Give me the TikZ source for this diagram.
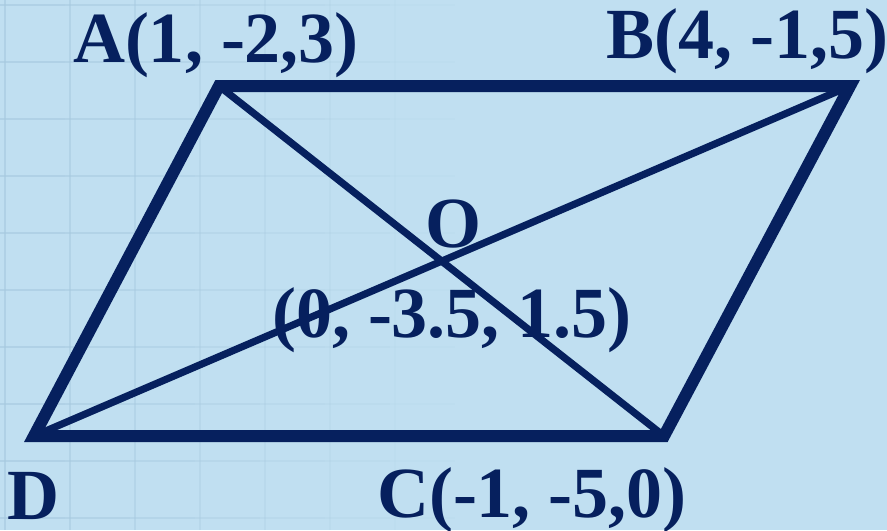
\documentclass[tikz,border=0pt]{standalone}
\usepackage{fontspec}
\setmainfont{Liberation Serif}
\usepackage{xcolor}
\definecolor{pgBack}{HTML}{C0DFF1}
\definecolor{pgGrid}{HTML}{A6C9DF}
\definecolor{pgNavy}{HTML}{06205E}
\usepackage{tikz}
\usetikzlibrary{positioning, calc}

\begin{document}
\begin{tikzpicture}[x=0.5pt, y=-0.5pt,
    side/.style={draw=pgNavy, line width=6pt, line join=miter},
    diag/.style={draw=pgNavy, line width=3.6pt},
    lbl/.style={text=pgNavy, font=\fontsize{36}{40}\selectfont\bfseries,
                inner sep=0pt, anchor=base}]
  % background and faint grid
  \fill[pgBack] (0,0) rectangle (887,530);
  \useasboundingbox (0,0) rectangle (887,530);
  \foreach \k in {0,...,6}{
    \pgfmathsetmacro{\op}{0.6*(1-\k/7)}
    \draw[pgGrid, line width=1.2pt, opacity=\op] (5+65*\k,0) -- (5+65*\k,530);
    \foreach \j in {0,...,9}{
      \draw[pgGrid, line width=1.2pt, opacity=\op] (65*\k,5+57*\j) -- (65*\k+65,5+57*\j);
    }
  }

  % vertices
  \coordinate (A) at (219,86);
  \coordinate (B) at (850,86);
  \coordinate (C) at (664,436);
  \coordinate (D) at (34,436);
  \coordinate (O) at ($(A)!0.5!(C)$);

  % diagonals and sides
  \draw[diag] (A) -- (C);
  \draw[diag] (B) -- (D);
  \draw[side] (A) -- (B) -- (C) -- (D) -- cycle;

  % labels
  \node[lbl] (labA) at (216,62) {A(1, -2,3)};
  \node[lbl] (labB) at (747,58) {B(4, -1,5)};
  \node[lbl] (labO) at (453,247) {O};
  \node[lbl] (labOc) at (452,337) {(0, -3.5, 1.5)};
  \node[lbl] (labD) at (33,519) {D};
  \node[lbl] (labC) at (532,517) {C(-1, -5,0)};
\end{tikzpicture}
\end{document}
